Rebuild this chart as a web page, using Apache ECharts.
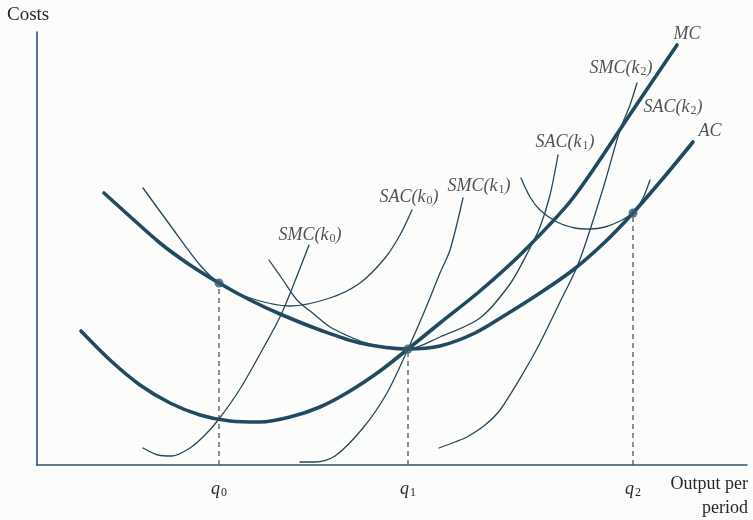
<!DOCTYPE html>
<html>
<head>
<meta charset="utf-8">
<script src="https://cdn.jsdelivr.net/npm/echarts@6/dist/echarts.min.js"></script>
<style>
  html, body { margin: 0; padding: 0; background: #fcfcfb; }
  #chart { width: 753px; height: 520px; }
</style>
</head>
<body>
<div id="chart"></div>
<script>
// Long-run average / marginal cost and three short-run plant sizes k0, k1, k2.
// Each curve is a list of [output, cost] points.
const acCurve = [[67,272],[88,253],[123,222],[153,200],[182,182],[213,165],[243,151],[283,135],[323,122],[371,116],[403,119],[438,132],[470,151],[503,172],[536,195],[568,223],[596,252],[628,289],[656,323]];
const mcCurve = [[44,134],[73,105],[103,80],[133,62],[163,50],[193,44],[223,43],[253,48],[283,58],[313,74],[343,94],[371,116],[403,142],[443,174],[486,213],[536,267],[596,355],[640,420]];
const sacK0 = [[106,277],[133,240],[163,200],[182,182],[213,167],[253,159],[293,167],[323,182],[348,207],[363,230],[375,255]];
const smcK0 = [[106,17],[121,10],[135,9],[153,17],[168,30],[182,46],[203,76],[223,111],[243,148],[258,184],[272,220]];
const sacK1 = [[232,205],[246,185],[260,165],[278,150],[293,138],[326,123],[348,118],[371,116],[403,128],[443,147],[473,181],[491,213],[503,238],[513,270],[521,310]];
const smcK1 = [[263,3],[278,3],[298,9],[326,37],[350,72],[371,116],[388,155],[403,192],[413,215],[426,267]];
const sacK2 = [[484,287],[493,268],[503,255],[520,243],[538,237],[553,236],[568,238],[583,244],[596,252],[606,267],[613,285]];
const smcK2 = [[402,17],[418,23],[430,28],[448,40],[463,55],[488,95],[503,122],[523,163],[540,198],[553,235],[568,283],[583,335],[593,360],[600,382]];

// Tangency points of the short-run average cost curves with AC
const tangencyPoints = [[182,182],[371,116],[596,252]];
// Output levels q0, q1, q2
const outputLevels = [182, 371, 596];
const outputSubscripts = ['0', '1', '2'];

// Curve names as [italic part, subscript, closing]
const curveNames = {
  MC: ['MC', '', ''],
  SMCk2: ['SMC(k', '2', ')'],
  SACk2: ['SAC(k', '2', ')'],
  AC: ['AC', '', ''],
  SACk1: ['SAC(k', '1', ')'],
  SMCk1: ['SMC(k', '1', ')'],
  SACk0: ['SAC(k', '0', ')'],
  SMCk0: ['SMC(k', '0', ')']
};

const SERIF = '"Liberation Serif", "DejaVu Serif", serif';
const INK = '#1f252c';
const THICK = '#1f4a60';
const THIN = '#26485a';

const richStyles = {
  i: { fontFamily: SERIF, fontStyle: 'italic', fontSize: 18, color: INK },
  s: { fontFamily: SERIF, fontSize: 12, color: INK, padding: [8, 0, 0, 1] }
};

function richName(parts) {
  let t = '{i|' + parts[0] + '}';
  if (parts[1]) t += '{s|' + parts[1] + '}';
  if (parts[2]) t += '{i|' + parts[2] + '}';
  return t;
}

function curve(data, thick) {
  return {
    type: 'line',
    data: data,
    smooth: 0.3,
    showSymbol: false,
    silent: true,
    clip: false,
    lineStyle: { color: thick ? THICK : THIN, width: thick ? 3.6 : 1.3, cap: 'round', join: 'round' },
    z: thick ? 3 : 2
  };
}

// Label anchors (output, cost) for curve names
const nameAnchors = [
  ['MC', 650, 431],
  ['SMCk2', 584, 397],
  ['SACk2', 636, 358],
  ['AC', 673, 334],
  ['SACk1', 528, 323],
  ['SMCk1', 442, 279],
  ['SACk0', 372, 268],
  ['SMCk0', 273, 230]
];

const dropLines = tangencyPoints.map(p => ({
  type: 'line',
  data: [[p[0], 0], [p[0], p[1]]],
  showSymbol: false,
  silent: true,
  lineStyle: { color: '#4a5864', width: 1.3, type: [5, 4] },
  z: 1
}));

const chart = echarts.init(document.getElementById('chart'), null, { renderer: 'canvas' });
chart.setOption({
  animation: false,
  backgroundColor: '#fcfcfb',
  grid: { left: 37, right: 6, top: 32, bottom: 55 },
  xAxis: {
    type: 'value', min: 0, max: 710,
    axisLine: { show: true, onZero: false, lineStyle: { color: '#2d5277', width: 1.6 } },
    axisTick: { show: false },
    splitLine: { show: false },
    axisLabel: {
      customValues: outputLevels,
      margin: 14,
      formatter: v => '{i|q}{s|' + outputSubscripts[outputLevels.indexOf(v)] + '}',
      rich: richStyles
    }
  },
  yAxis: {
    type: 'value', min: 0, max: 433,
    axisLine: { show: true, onZero: false, lineStyle: { color: '#2d5277', width: 1.6 } },
    axisTick: { show: false },
    axisLabel: { show: false },
    splitLine: { show: false }
  },
  series: [
    curve(smcK0, false), curve(sacK0, false),
    curve(smcK1, false), curve(sacK1, false),
    curve(smcK2, false), curve(sacK2, false),
    curve(acCurve, true), curve(mcCurve, true),
    ...dropLines,
    {
      type: 'scatter',
      data: tangencyPoints,
      symbolSize: 9,
      silent: true,
      itemStyle: { color: '#34566a' },
      z: 5
    },
    {
      type: 'scatter',
      data: nameAnchors.map(a => ({ value: [a[1], a[2]], key: a[0] })),
      symbolSize: 0,
      silent: true,
      clip: false,
      label: {
        show: true,
        position: 'inside',
        formatter: p => richName(curveNames[p.data.key]),
        rich: richStyles
      },
      z: 6
    }
  ],
  graphic: [
    {
      type: 'text', left: 7, top: 6,
      style: { text: 'Costs', font: '19px ' + SERIF, fill: INK }
    },
    {
      type: 'text', right: 5, top: 475,
      style: { text: 'Output per', font: '18px ' + SERIF, fill: INK }
    },
    {
      type: 'text', right: 5, top: 499,
      style: { text: 'period', font: '18px ' + SERIF, fill: INK }
    }
  ]
});
</script>
</body>
</html>
